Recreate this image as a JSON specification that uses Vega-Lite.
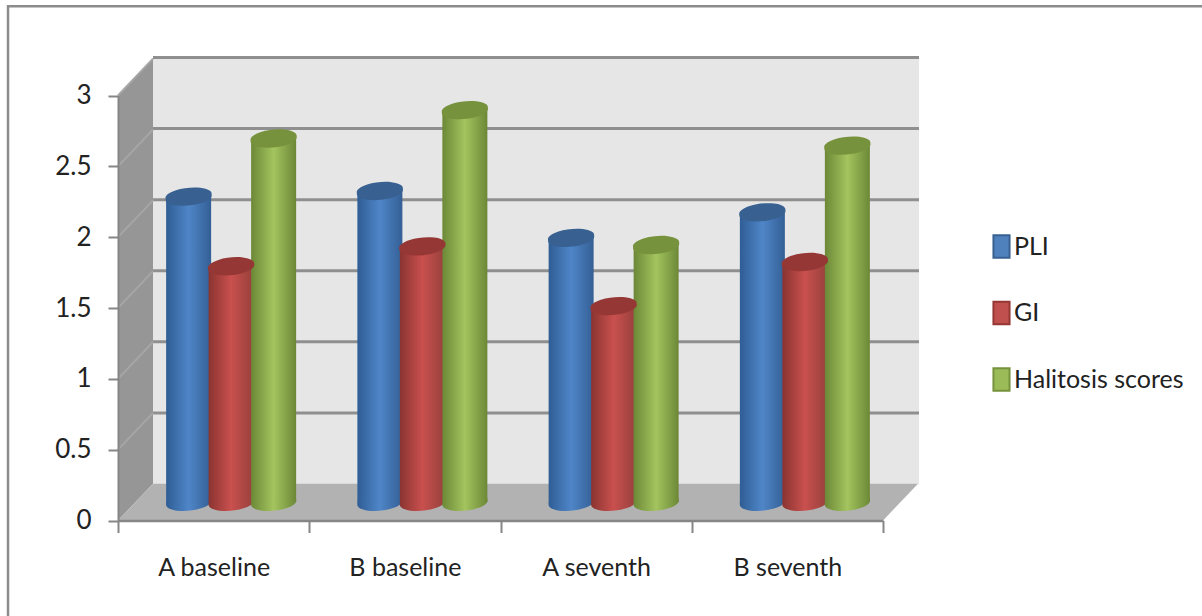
{
"$schema":"https://vega.github.io/schema/vega-lite/v6.json",
"width":1202,"height":616,"padding":0,"autosize":{"type":"none"},"background":"white",
"config":{"view":{"stroke":null},"font":"Lato"},
"datasets":{
"scores":[
{"period":"A baseline","series":"PLI","value":2.15},{"period":"A baseline","series":"GI","value":1.66},{"period":"A baseline","series":"Halitosis scores","value":2.56},
{"period":"B baseline","series":"PLI","value":2.19},{"period":"B baseline","series":"GI","value":1.8},{"period":"B baseline","series":"Halitosis scores","value":2.76},
{"period":"A seventh","series":"PLI","value":1.86},{"period":"A seventh","series":"GI","value":1.38},{"period":"A seventh","series":"Halitosis scores","value":1.81},
{"period":"B seventh","series":"PLI","value":2.04},{"period":"B seventh","series":"GI","value":1.69},{"period":"B seventh","series":"Halitosis scores","value":2.51}],
"gridValues":[{"v":0.5},{"v":1},{"v":1.5},{"v":2},{"v":2.5},{"v":3}],
"leftWall":[{"x":0,"lo":0,"hi":3},{"x":0.183,"lo":0.26,"hi":3.26}],
"floor":[{"x":0,"lo":0,"hi":0},{"x":0.183,"lo":0,"hi":0.26},{"x":4,"lo":0,"hi":0.26},{"x":4.183,"lo":0.26,"hi":0.26}],
"leftGrid":[
{"g":0.5,"x":0,"y":0.5},{"g":0.5,"x":0.183,"y":0.76},{"g":1,"x":0,"y":1},{"g":1,"x":0.183,"y":1.26},
{"g":1.5,"x":0,"y":1.5},{"g":1.5,"x":0.183,"y":1.76},{"g":2,"x":0,"y":2},{"g":2,"x":0.183,"y":2.26},
{"g":2.5,"x":0,"y":2.5},{"g":2.5,"x":0.183,"y":2.76},{"g":3,"x":0,"y":3},{"g":3,"x":0.183,"y":3.26}],
"frame":[{"o":1,"x":-0.575,"y":-0.8},{"o":2,"x":-0.575,"y":3.63},{"o":3,"x":5.8,"y":3.63}]
},
"layer":[
{"data":{"name":"frame"},"mark":{"type":"line","color":"#8c8c8c","strokeWidth":2.5,"clip":false},
 "encoding":{"x":{"field":"x","type":"quantitative","scale":{"domain":[0,4],"range":[118,883],"nice":false,"zero":false},"axis":null},
 "y":{"field":"y","type":"quantitative","scale":{"domain":[0,3],"range":[520.5,95.5],"nice":false,"zero":false},"axis":null},"order":{"field":"o"}}},
{"layer":[
 {"data":{"values":[{"a":0,"b":4,"lo":0,"hi":3}]},"mark":{"type":"rect","color":"#e6e6e6"},
  "encoding":{"x":{"field":"a","type":"quantitative","scale":{"domain":[0,4],"range":[153,919],"nice":false,"zero":false},"axis":null},"x2":{"field":"b"},
  "y":{"field":"lo","type":"quantitative","scale":{"domain":[0,3],"range":[484,57.5],"nice":false,"zero":false},"axis":null},"y2":{"field":"hi"}}},
 {"data":{"name":"gridValues"},"transform":[{"calculate":"0","as":"a"},{"calculate":"4","as":"b"}],"mark":{"type":"rule","color":"#8f8f8f","strokeWidth":3},
  "encoding":{"x":{"field":"a","type":"quantitative","axis":null},"x2":{"field":"b"},"y":{"field":"v","type":"quantitative","axis":null}}}
]},
{"layer":[
 {"data":{"name":"leftWall"},"mark":{"type":"area","color":"#969696","opacity":1},
  "encoding":{"x":{"field":"x","type":"quantitative","scale":{"domain":[0,4],"range":[118,883],"nice":false,"zero":false},"axis":null},
  "y":{"field":"lo","type":"quantitative","scale":{"domain":[0,3],"range":[520.5,95.5],"nice":false,"zero":false},"axis":null},"y2":{"field":"hi"}}},
 {"data":{"name":"floor"},"mark":{"type":"area","color":"#b2b2b2","opacity":1},
  "encoding":{"x":{"field":"x","type":"quantitative","axis":null},"y":{"field":"lo","type":"quantitative","axis":null},"y2":{"field":"hi"}}},
 {"data":{"name":"leftGrid"},"mark":{"type":"line","color":"#a6a6a6","strokeWidth":2},
  "encoding":{"x":{"field":"x","type":"quantitative","axis":null},"y":{"field":"y","type":"quantitative","axis":null},"detail":{"field":"g"}}}
]},
{"data":{"name":"scores"},"layer":[
 {"mark":{"type":"point","filled":true,"opacity":1,"shape":"M-1,0.1A1.01,0.35,-6,1,1,1,-0.1A1.01,0.35,-6,1,1,-1,0.1Z"},
  "encoding":{"y":{"datum":0,"type":"quantitative"},"size":{"value":2025},
  "color":{"condition":[
   {"test":"datum.series==='PLI'","value":{"x1":0,"x2":1,"y1":0,"y2":0,"gradient":"linear","stops":[{"offset":0,"color":"#2f5d94"},{"offset":0.5,"color":"#4f86c8"},{"offset":1,"color":"#345f95"}]}},
   {"test":"datum.series==='GI'","value":{"x1":0,"x2":1,"y1":0,"y2":0,"gradient":"linear","stops":[{"offset":0,"color":"#8a3431"},{"offset":0.5,"color":"#c9504e"},{"offset":1,"color":"#96403c"}]}}],
   "value":{"x1":0,"x2":1,"y1":0,"y2":0,"gradient":"linear","stops":[{"offset":0,"color":"#6c8837"},{"offset":0.5,"color":"#a3c45e"},{"offset":1,"color":"#6c8837"}]}}}},
 {"mark":{"type":"bar","width":45,"opacity":1},
  "encoding":{"y":{"field":"value","type":"quantitative"},
  "color":{"condition":[
   {"test":"datum.series==='PLI'","value":{"x1":0,"x2":1,"y1":0,"y2":0,"gradient":"linear","stops":[{"offset":0,"color":"#2f5d94"},{"offset":0.5,"color":"#4f86c8"},{"offset":1,"color":"#345f95"}]}},
   {"test":"datum.series==='GI'","value":{"x1":0,"x2":1,"y1":0,"y2":0,"gradient":"linear","stops":[{"offset":0,"color":"#8a3431"},{"offset":0.5,"color":"#c9504e"},{"offset":1,"color":"#96403c"}]}}],
   "value":{"x1":0,"x2":1,"y1":0,"y2":0,"gradient":"linear","stops":[{"offset":0,"color":"#6c8837"},{"offset":0.5,"color":"#a3c45e"},{"offset":1,"color":"#6c8837"}]}}}},
 {"mark":{"type":"point","filled":true,"opacity":1,"shape":"M-1,0.1A1.01,0.35,-6,1,1,1,-0.1A1.01,0.35,-6,1,1,-1,0.1Z"},
  "encoding":{"y":{"field":"value","type":"quantitative"},"size":{"value":2116},
  "color":{"condition":[{"test":"datum.series==='PLI'","value":"#386192"},{"test":"datum.series==='GI'","value":"#953735"}],"value":"#76923c"}}}
 ],
 "encoding":{
  "x":{"field":"period","type":"nominal","sort":null,"scale":{"range":[135.5,900.5],"paddingInner":0.3333,"paddingOuter":0.1667},"axis":null},
  "xOffset":{"field":"series","type":"nominal","scale":{"domain":["PLI","GI","Halitosis scores"],"paddingInner":0,"paddingOuter":0}},
  "y":{"type":"quantitative","scale":{"domain":[0,3],"range":[502,76],"nice":false,"zero":false},"axis":null}}
},
{"data":{"name":"scores"},"mark":{"type":"bar","opacity":0},
 "encoding":{
 "x":{"field":"period","type":"nominal","sort":null,"scale":{"range":[118,883],"paddingInner":0,"paddingOuter":0},
  "axis":{"title":null,"orient":"bottom","offset":-95.5,"tickBand":"extent","labelAngle":0,"tickSize":12,"tickWidth":2,"tickColor":"#868686","domainColor":"#868686","domainWidth":2.5,"labelFont":"Lato","labelFontSize":25,"labelColor":"#222222","labelPadding":23,"zindex":1}},
 "y":{"field":"value","type":"quantitative","scale":{"domain":[0,3],"range":[520.5,95.5],"nice":false,"zero":false},
  "axis":{"title":null,"orient":"left","offset":-118,"values":[0,0.5,1,1.5,2,2.5,3],"format":"~g","grid":false,"tickSize":10,"tickWidth":2,"tickColor":"#868686","domainColor":"#868686","domainWidth":2,"labelFont":"Lato","labelFontSize":26,"labelColor":"#222222","labelPadding":17,"zindex":1}}}},
{"data":{"name":"scores"},"mark":{"type":"point","filled":true,"opacity":0},
 "encoding":{
 "color":{"field":"series","type":"nominal","scale":{"domain":["PLI","GI","Halitosis scores"],"range":["#4f81bd","#c0504d","#9bbb59"]},
  "legend":{"title":null,"orient":"none","legendX":989,"legendY":234,"symbolType":"M-0.72,-1H0.72V1H-0.72Z","symbolSize":500,"symbolOpacity":1,"symbolStrokeWidth":2,"symbolStrokeColor":{"expr":"datum.value==='PLI'?'#386192':datum.value==='GI'?'#953735':'#76923c'"},"labelFont":"Lato","labelFontSize":25,"labelColor":"#222222","labelOffset":0,"labelLimit":300,"rowPadding":35.5}}}}
],
"resolve":{"scale":{"x":"independent","y":"independent","color":"independent"},"axis":{"x":"independent","y":"independent"}}
}
